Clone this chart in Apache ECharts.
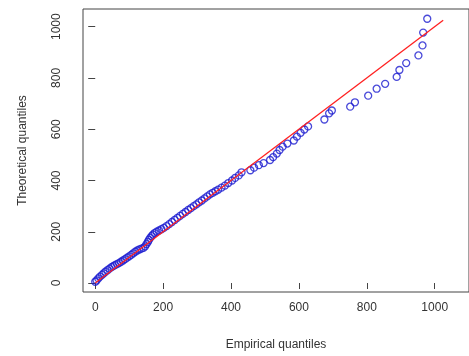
<!DOCTYPE html>
<html>
<head>
<meta charset="utf-8">
<script src="https://cdn.jsdelivr.net/npm/echarts@6/dist/echarts.min.js"></script>
<style>
  html, body { margin: 0; padding: 0; background: #fff; }
  #chart { width: 469px; height: 356px; }
</style>
</head>
<body>
<div id="chart"></div>
<script>
// empirical quantiles (x) and theoretical quantiles (y)
const empirical = [0, 4, 9, 14, 20, 25, 30, 36, 42, 48, 53, 58, 64, 70, 76, 82, 88, 94, 100, 106,
  112, 118, 124, 130, 136, 142, 147, 151, 155, 158, 162, 166, 170, 175, 181, 188, 195, 202, 210, 218,
  226, 234, 242, 250, 258, 266, 274, 282, 290, 298, 306, 314, 322, 330, 338, 346, 354, 362, 372, 382,
  392, 403, 412, 423, 431, 457, 468, 482, 496, 515, 524, 535, 543, 552, 566, 585, 594, 605, 616, 627,
  675, 689, 697, 751, 765, 804, 829, 854, 888, 896, 916, 952, 964, 966, 978]
const theoretical = [5, 10, 18, 25, 32, 38, 44, 50, 56, 62, 66, 70, 74, 78, 83, 88, 93, 99, 104, 110,
  116, 122, 127, 131, 134, 137, 143, 152, 160, 168, 176, 183, 189, 195, 200, 205, 210, 215, 222, 230,
  238, 246, 254, 262, 270, 277, 285, 292, 300, 307, 315, 322, 330, 338, 346, 352, 358, 364, 372, 380,
  390, 400, 410, 420, 432, 440, 450, 460, 468, 480, 491, 505, 519, 532, 544, 556, 571, 586, 599, 611,
  638, 662, 673, 688, 705, 731, 758, 777, 804, 831, 858, 888, 927, 977, 1031]
// reference line y = x
const refLineX = [0, 1025]
const refLineY = [0, 1025]
const xTicks = [0, 200, 400, 600, 800, 1000]
const yTicks = [0, 200, 400, 600, 800, 1000]

const chart = echarts.init(document.getElementById('chart'))

const points = empirical.map((v, i) => [v, theoretical[i]])
const refLine = refLineX.map((v, i) => [v, refLineY[i]])

const textStyle = { color: '#333', fontSize: 12, fontFamily: 'Liberation Sans, Arial, sans-serif' }

chart.setOption({
  animation: false,
  backgroundColor: '#fff',
  grid: {
    left: 83, top: 9, width: 406, height: 287,
    show: true, borderColor: '#444', borderWidth: 1, backgroundColor: 'transparent'
  },
  xAxis: {
    type: 'value',
    min: -36, max: 1101,
    name: 'Empirical quantiles',
    nameLocation: 'middle',
    nameGap: 47,
    nameTextStyle: textStyle,
    axisLine: { show: false },
    splitLine: { show: false },
    axisTick: { show: true, customValues: xTicks, length: 6, lineStyle: { color: '#444' } },
    axisLabel: { customValues: xTicks, margin: 10, formatter: (v) => String(v), ...textStyle }
  },
  yAxis: {
    type: 'value',
    min: -35, max: 1069,
    name: 'Theoretical quantiles',
    nameLocation: 'middle',
    nameRotate: 90,
    nameGap: 54,
    nameTextStyle: textStyle,
    axisLine: { show: false },
    splitLine: { show: false },
    axisTick: { show: true, customValues: yTicks, length: 7, lineStyle: { color: '#444' } },
    axisLabel: { customValues: yTicks, rotate: 90, margin: 20, formatter: (v) => String(v), ...textStyle }
  },
  series: [
    {
      type: 'scatter',
      data: points,
      symbol: 'circle',
      symbolSize: 7,
      itemStyle: { color: 'transparent', borderColor: '#1c1cd0', borderWidth: 1.3 },
      z: 2
    },
    {
      type: 'line',
      data: refLine,
      symbol: 'none',
      lineStyle: { color: '#ff2020', width: 1.3 },
      z: 3
    }
  ]
})
</script>
</body>
</html>
